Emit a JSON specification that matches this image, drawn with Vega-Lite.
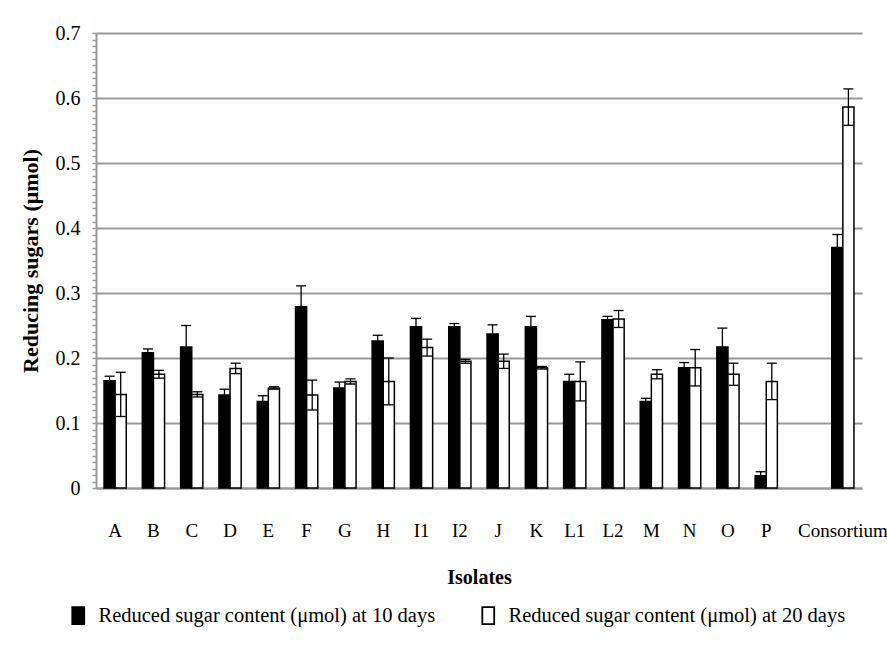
{
  "$schema": "https://vega.github.io/schema/vega-lite/v6.json",
  "width": 766,
  "height": 455,
  "autosize": {"type": "none"},
  "padding": {"left": 96, "top": 33, "right": 25, "bottom": 182},
  "background": "white",
  "config": {"view": {"stroke": null}, "font": "Liberation Serif"},
  "data": {
    "values": [
      {"iso": "A", "series": "Reduced sugar content (μmol) at 10 days", "v": 0.165, "e": 0.007},
      {"iso": "A", "series": "Reduced sugar content (μmol) at 20 days", "v": 0.144, "e": 0.034},
      {"iso": "B", "series": "Reduced sugar content (μmol) at 10 days", "v": 0.208, "e": 0.006},
      {"iso": "B", "series": "Reduced sugar content (μmol) at 20 days", "v": 0.175, "e": 0.006},
      {"iso": "C", "series": "Reduced sugar content (μmol) at 10 days", "v": 0.217, "e": 0.033},
      {"iso": "C", "series": "Reduced sugar content (μmol) at 20 days", "v": 0.144, "e": 0.004},
      {"iso": "D", "series": "Reduced sugar content (μmol) at 10 days", "v": 0.143, "e": 0.009},
      {"iso": "D", "series": "Reduced sugar content (μmol) at 20 days", "v": 0.184, "e": 0.008},
      {"iso": "E", "series": "Reduced sugar content (μmol) at 10 days", "v": 0.133, "e": 0.009},
      {"iso": "E", "series": "Reduced sugar content (μmol) at 20 days", "v": 0.154, "e": 0.002},
      {"iso": "F", "series": "Reduced sugar content (μmol) at 10 days", "v": 0.279, "e": 0.032},
      {"iso": "F", "series": "Reduced sugar content (μmol) at 20 days", "v": 0.143, "e": 0.023},
      {"iso": "G", "series": "Reduced sugar content (μmol) at 10 days", "v": 0.154, "e": 0.009},
      {"iso": "G", "series": "Reduced sugar content (μmol) at 20 days", "v": 0.164, "e": 0.004},
      {"iso": "H", "series": "Reduced sugar content (μmol) at 10 days", "v": 0.226, "e": 0.009},
      {"iso": "H", "series": "Reduced sugar content (μmol) at 20 days", "v": 0.164, "e": 0.036},
      {"iso": "I1", "series": "Reduced sugar content (μmol) at 10 days", "v": 0.248, "e": 0.013},
      {"iso": "I1", "series": "Reduced sugar content (μmol) at 20 days", "v": 0.216, "e": 0.013},
      {"iso": "I2", "series": "Reduced sugar content (μmol) at 10 days", "v": 0.248, "e": 0.005},
      {"iso": "I2", "series": "Reduced sugar content (μmol) at 20 days", "v": 0.195, "e": 0.003},
      {"iso": "J", "series": "Reduced sugar content (μmol) at 10 days", "v": 0.237, "e": 0.014},
      {"iso": "J", "series": "Reduced sugar content (μmol) at 20 days", "v": 0.195, "e": 0.011},
      {"iso": "K", "series": "Reduced sugar content (μmol) at 10 days", "v": 0.248, "e": 0.016},
      {"iso": "K", "series": "Reduced sugar content (μmol) at 20 days", "v": 0.185, "e": 0.002},
      {"iso": "L1", "series": "Reduced sugar content (μmol) at 10 days", "v": 0.164, "e": 0.011},
      {"iso": "L1", "series": "Reduced sugar content (μmol) at 20 days", "v": 0.164, "e": 0.030},
      {"iso": "L2", "series": "Reduced sugar content (μmol) at 10 days", "v": 0.259, "e": 0.005},
      {"iso": "L2", "series": "Reduced sugar content (μmol) at 20 days", "v": 0.260, "e": 0.013},
      {"iso": "M", "series": "Reduced sugar content (μmol) at 10 days", "v": 0.133, "e": 0.005},
      {"iso": "M", "series": "Reduced sugar content (μmol) at 20 days", "v": 0.175, "e": 0.007},
      {"iso": "N", "series": "Reduced sugar content (μmol) at 10 days", "v": 0.185, "e": 0.008},
      {"iso": "N", "series": "Reduced sugar content (μmol) at 20 days", "v": 0.185, "e": 0.028},
      {"iso": "O", "series": "Reduced sugar content (μmol) at 10 days", "v": 0.217, "e": 0.029},
      {"iso": "O", "series": "Reduced sugar content (μmol) at 20 days", "v": 0.175, "e": 0.017},
      {"iso": "P", "series": "Reduced sugar content (μmol) at 10 days", "v": 0.019, "e": 0.006},
      {"iso": "P", "series": "Reduced sugar content (μmol) at 20 days", "v": 0.164, "e": 0.028},
      {"iso": "Consortium", "series": "Reduced sugar content (μmol) at 10 days", "v": 0.370, "e": 0.020},
      {"iso": "Consortium", "series": "Reduced sugar content (μmol) at 20 days", "v": 0.586, "e": 0.028}
    ]
  },
  "transform": [
    {"calculate": "datum.v - datum.e", "as": "lo"},
    {"calculate": "datum.v + datum.e", "as": "hi"}
  ],
  "encoding": {
    "x": {
      "field": "iso",
      "type": "nominal",
      "title": "Isolates",
      "scale": {
        "domain": ["A", "B", "C", "D", "E", "F", "G", "H", "I1", "I2", "J", "K", "L1", "L2", "M", "N", "O", "P", " ", "Consortium"],
        "paddingInner": 0.42,
        "paddingOuter": 0.21
      },
      "axis": {
        "labelAngle": 0,
        "labelFontSize": 19,
        "labelColor": "black",
        "labelPadding": 33,
        "ticks": false,
        "domainColor": "#999",
        "domainWidth": 2,
        "titleFontSize": 20,
        "titleFontWeight": "bold",
        "titleColor": "black",
        "titlePadding": 27
      }
    },
    "xOffset": {
      "field": "series",
      "type": "nominal",
      "scale": {"paddingInner": 0, "paddingOuter": 0}
    }
  },
  "resolve": {"axis": {"y": "independent"}},
  "layer": [
    {
      "mark": {"type": "bar", "stroke": "black", "strokeWidth": 1.5},
      "encoding": {
        "y": {
          "field": "v",
          "type": "quantitative",
          "title": "Reducing sugars (μmol)",
          "scale": {"domain": [0, 0.7], "nice": false, "zero": true},
          "axis": {
            "orient": "left",
            "values": [0, 0.1, 0.2, 0.3, 0.4, 0.5, 0.6, 0.7],
            "labelExpr": "datum.value == 0 ? '0' : format(datum.value, '.1f')",
            "labelOverlap": false,
            "labelFontSize": 20,
            "labelColor": "black",
            "labelPadding": 12,
            "tickSize": 4,
            "tickColor": "#999",
            "tickWidth": 1.5,
            "domainColor": "#999",
            "domainWidth": 2,
            "grid": true,
            "gridColor": "#999",
            "gridWidth": 2,
            "titleFontSize": 22,
            "titleFontWeight": "bold",
            "titleColor": "black",
            "titlePadding": 13
          }
        },
        "fill": {
          "field": "series",
          "type": "nominal",
          "scale": {
            "domain": ["Reduced sugar content (μmol) at 10 days", "Reduced sugar content (μmol) at 20 days"],
            "range": ["black", "white"]
          },
          "legend": {
            "orient": "none",
            "legendX": -28,
            "legendY": 572,
            "direction": "horizontal",
            "title": null,
            "labelFontSize": 20.5,
            "labelColor": "black",
            "labelLimit": 500,
            "labelOffset": 10,
            "columnPadding": 42,
            "symbolType": "M-0.7,-1H0.7V1H-0.7Z",
            "symbolSize": 289,
            "symbolStrokeColor": "black",
            "symbolStrokeWidth": 1.8
          }
        }
      }
    },
    {
      "mark": {"type": "rule", "color": "black", "strokeWidth": 1.3},
      "encoding": {
        "y": {
          "field": "lo",
          "type": "quantitative",
          "axis": {
            "orient": "left",
            "title": null,
            "values": [0.01, 0.02, 0.03, 0.04, 0.05, 0.06, 0.07, 0.08, 0.09, 0.11, 0.12, 0.13, 0.14, 0.15, 0.16, 0.17, 0.18, 0.19, 0.21, 0.22, 0.23, 0.24, 0.25, 0.26, 0.27, 0.28, 0.29, 0.31, 0.32, 0.33, 0.34, 0.35, 0.36, 0.37, 0.38, 0.39, 0.41, 0.42, 0.43, 0.44, 0.45, 0.46, 0.47, 0.48, 0.49, 0.51, 0.52, 0.53, 0.54, 0.55, 0.56, 0.57, 0.58, 0.59, 0.61, 0.62, 0.63, 0.64, 0.65, 0.66, 0.67, 0.68, 0.69],
            "labels": false,
            "grid": false,
            "domain": false,
            "tickSize": 4,
            "tickColor": "#999",
            "tickWidth": 1.5
          }
        },
        "y2": {"field": "hi"}
      }
    },
    {
      "mark": {"type": "tick", "color": "black", "thickness": 1.3, "size": 10, "opacity": 1},
      "encoding": {
        "y": {"field": "hi", "type": "quantitative", "axis": null}
      }
    },
    {
      "mark": {"type": "tick", "color": "black", "thickness": 1.3, "size": 10, "opacity": 1},
      "encoding": {
        "y": {"field": "lo", "type": "quantitative", "axis": null}
      }
    }
  ]
}
